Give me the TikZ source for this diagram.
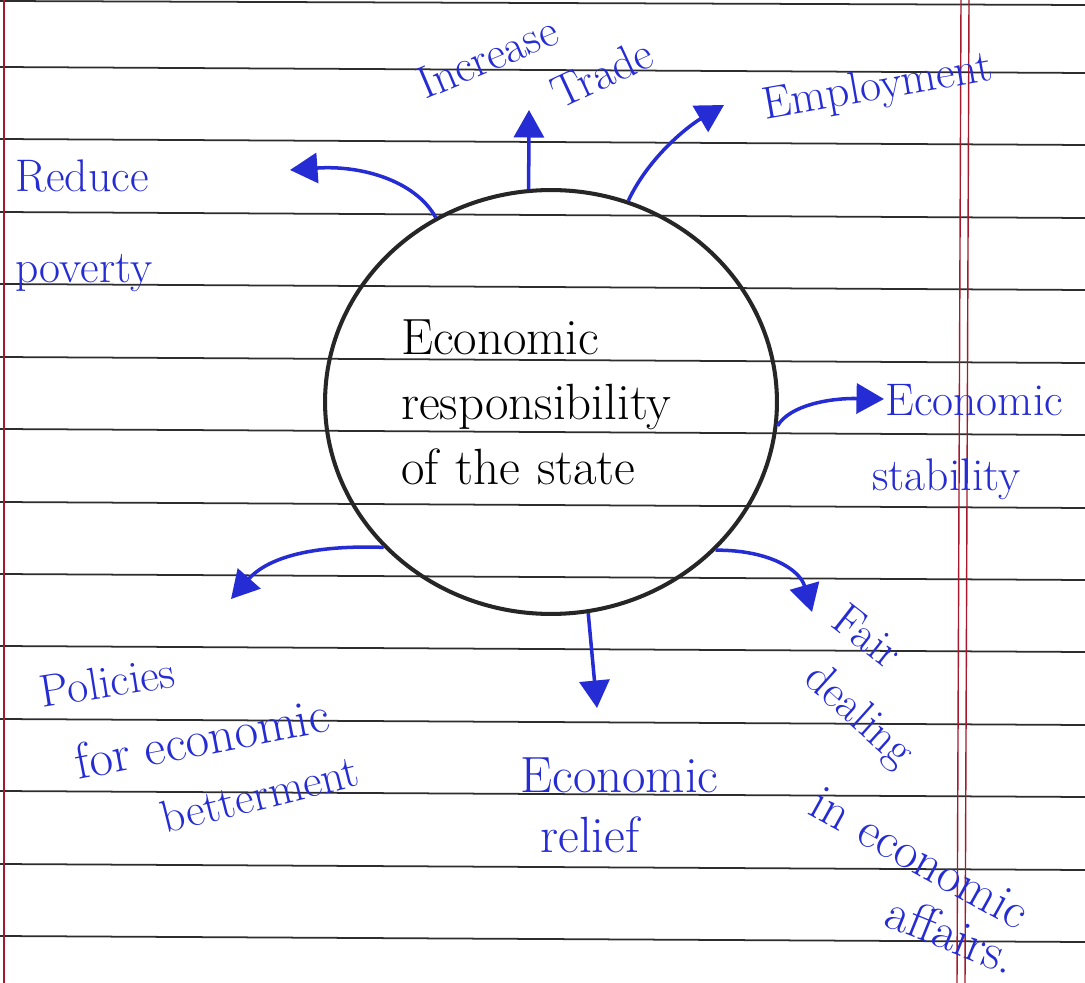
\documentclass[tikz,border=0pt]{standalone}
\usetikzlibrary{arrows.meta,shapes.geometric}
\definecolor{ink}{RGB}{38,44,212}
\definecolor{ruled}{RGB}{45,45,45}
\definecolor{margin}{RGB}{165,25,45}

\begin{document}
\begin{tikzpicture}[x=0.02cm,y=-0.02cm,
					every node/.style={font=\fontsize{26}{35}\selectfont},
					lbl/.style={text=ink, inner sep=0pt},
					big/.style={font=\fontsize{29}{35}\selectfont},
					branch/.style={draw=ink, line width=2pt, -{Triangle[length=0.55cm,width=0.6cm]}},
					ruleline/.style={draw=ruled, line width=1pt}]
				% the page
				\fill[white] (0,0) rectangle (1085,983);
				\useasboundingbox (0,0) rectangle (1085,983);
				\draw[ruleline] (0,1) -- (1085,5);
				\foreach \y in {67,139,212,284,357,429,502,574,646,719,791,864,936}
					\draw[ruleline] (0,\y) -- (1085,\y+6);
				\draw[margin, line width=0.8pt] (4,0) -- (4,983);
				\draw[margin, line width=0.8pt] (961,0) -- (957,983);
				\draw[margin, line width=0.8pt] (969,0) -- (965,983);
				% centre
				\node[ellipse, draw=black!85, line width=2.3pt, minimum width=9.04cm,
					minimum height=8.48cm, align=left, text width=6cm,
					font=\fontsize{29}{37}\selectfont]
					(state) at (551,402) {Economic\\responsibility\\of the state};
				% labels
				\node[lbl, anchor=base west] (reduce) at (15,192) {Reduce};
				\node[lbl, anchor=base west] (poverty) at (15,282) {poverty};
				\node[lbl, anchor=base west, rotate=23] (increase) at (425,100) {Increase};
				\node[lbl, anchor=base west, rotate=25] (trade) at (560,110) {Trade};
				\node[lbl, anchor=base west, rotate=10] (employ) at (765,120) {Employment};
				\node[lbl, anchor=base west] (econ1) at (885,415) {Economic};
				\node[lbl, anchor=base west] (stab) at (872,490) {stability};
				\node[lbl, rotate=-38] (fair) at (868,636) {Fair};
				\node[lbl, rotate=-42] (dealing) at (858,717) {dealing};
				\node[lbl, big, rotate=-29] (ineco) at (920,858) {in economic};
				\node[lbl, big, rotate=-22] (affairs) at (952,934) {affairs.};
				\node[lbl, big, anchor=base west] (econ2) at (520,792) {Economic};
				\node[lbl, big, anchor=base west] (relief) at (540,852) {relief};
				\node[lbl, anchor=base west, rotate=9] (policies) at (42,708) {Policies};
				\node[lbl, big, anchor=base west, rotate=11] (foreco) at (78,780) {for economic};
				\node[lbl, anchor=base west, rotate=14] (better) at (165,834) {betterment};
				% arrow tips
				\coordinate (tipR) at (290,170);
				\coordinate (tipT) at (529,110);
				\coordinate (tipE) at (724,105);
				\coordinate (tipS) at (884,399);
				\coordinate (tipF) at (812,612);
				\coordinate (tipB) at (597,708);
				\coordinate (tipP) at (231,599);
				% arrows
				\draw[branch] (state.122) .. controls (415,180) and (360,165) .. (tipR);
				\draw[branch] (state.96) -- (tipT);
				\draw[branch] (state.69) .. controls (650,155) and (690,125) .. (tipE);
				\draw[branch] (state.-6) .. controls (790,405) and (830,398) .. (tipS);
				\draw[branch] (state.-42) .. controls (770,550) and (800,570) .. (tipF);
				\draw[branch] (state.-80) -- (tipB);
				\draw[branch] (state.221) .. controls (320,545) and (270,555) .. (tipP);
			\end{tikzpicture}
\end{document}
